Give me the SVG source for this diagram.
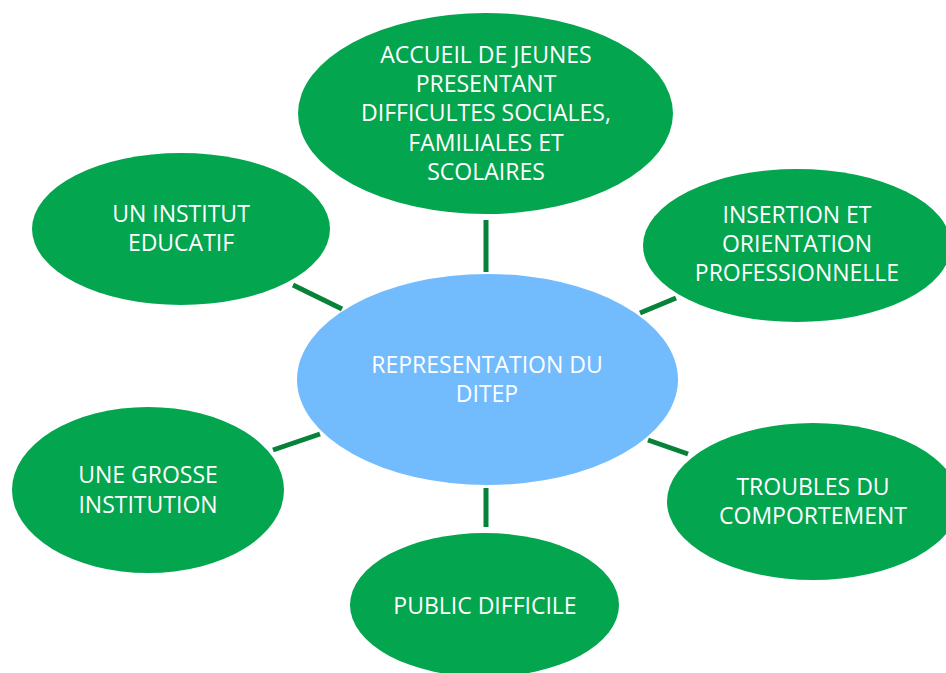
<svg xmlns="http://www.w3.org/2000/svg" width="946" height="673" viewBox="0 0 946 673">
  <style>
    .bubble { fill: #04A54F; }
    .hub { fill: #72BCFE; }
    .label { font-family: "Open Sans", "Liberation Sans", sans-serif; font-size: 23px; fill: #FFFFFF; text-anchor: middle; }
    .link { stroke: #078239; stroke-width: 5; fill: none; }
  </style>
  <rect width="946" height="673" fill="#FFFFFF"/>

  <!-- spokes between the hub and the surrounding bubbles -->
  <g id="connectors">
    <line class="link" x1="486" y1="220" x2="486" y2="272"/>
    <line class="link" x1="293" y1="285" x2="342" y2="309"/>
    <line class="link" x1="640" y1="313" x2="676" y2="298"/>
    <line class="link" x1="273" y1="450" x2="320" y2="434"/>
    <line class="link" x1="648" y1="440" x2="688" y2="454"/>
    <line class="link" x1="486" y1="488" x2="486" y2="527"/>
  </g>

  <g id="node-accueil">
    <ellipse class="bubble" cx="485.5" cy="113.5" rx="187.5" ry="100.5"/>
    <text class="label" x="486" y="63">ACCUEIL DE JEUNES</text>
    <text class="label" x="486" y="92">PRESENTANT</text>
    <text class="label" x="486" y="121">DIFFICULTES SOCIALES,</text>
    <text class="label" x="486" y="151">FAMILIALES ET</text>
    <text class="label" x="486" y="180">SCOLAIRES</text>
  </g>

  <g id="node-institut">
    <ellipse class="bubble" cx="181" cy="229" rx="149" ry="76"/>
    <text class="label" x="181" y="222">UN INSTITUT</text>
    <text class="label" x="181" y="251">EDUCATIF</text>
  </g>

  <g id="node-insertion">
    <ellipse class="bubble" cx="797" cy="245.5" rx="154" ry="76.5"/>
    <text class="label" x="797" y="223">INSERTION ET</text>
    <text class="label" x="797" y="252">ORIENTATION</text>
    <text class="label" x="797" y="281">PROFESSIONNELLE</text>
  </g>

  <g id="node-ditep">
    <ellipse class="hub" cx="487.5" cy="379.5" rx="190.5" ry="105.5"/>
    <text class="label" x="487" y="373">REPRESENTATION DU</text>
    <text class="label" x="487" y="402">DITEP</text>
  </g>

  <g id="node-grosse">
    <ellipse class="bubble" cx="148" cy="490" rx="136" ry="83"/>
    <text class="label" x="148" y="483">UNE GROSSE</text>
    <text class="label" x="148" y="513">INSTITUTION</text>
  </g>

  <g id="node-troubles">
    <ellipse class="bubble" cx="813" cy="501.5" rx="146" ry="78.5"/>
    <text class="label" x="813" y="495">TROUBLES DU</text>
    <text class="label" x="813" y="524">COMPORTEMENT</text>
  </g>

  <g id="node-public">
    <ellipse class="bubble" cx="484.5" cy="605" rx="134.5" ry="72"/>
    <text class="label" x="485" y="614">PUBLIC DIFFICILE</text>
  </g>
</svg>
